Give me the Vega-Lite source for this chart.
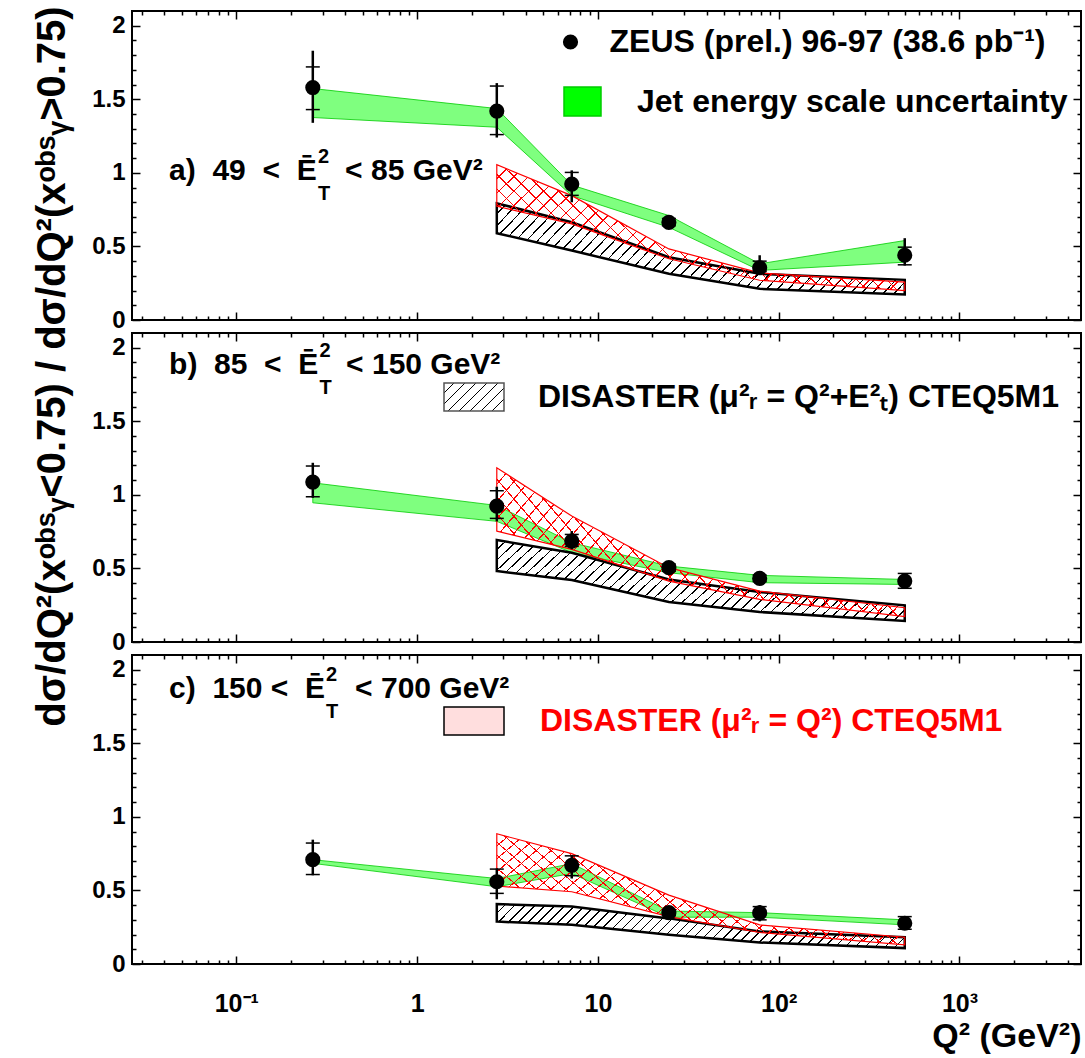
{
  "$schema": "https://vega.github.io/schema/vega-lite/v6.json",
  "autosize": {"type": "pad"},
  "padding": {"left": 30, "top": 4, "right": 0, "bottom": 0},
  "background": "white",
  "params": [
    {"name": "hatchAB", "value": {"gradient": "linear", "x1": 0, "y1": 0, "x2": 1.16, "y2": 0.245, "stops": [
      {"offset": 0, "color": "transparent"}, {"offset": 0.01889, "color": "transparent"}, {"offset": 0.01889, "color": "black"}, {"offset": 0.02222, "color": "black"},
      {"offset": 0.02222, "color": "transparent"}, {"offset": 0.04111, "color": "transparent"}, {"offset": 0.04111, "color": "black"}, {"offset": 0.04444, "color": "black"},
      {"offset": 0.04444, "color": "transparent"}, {"offset": 0.06333, "color": "transparent"}, {"offset": 0.06333, "color": "black"}, {"offset": 0.06667, "color": "black"},
      {"offset": 0.06667, "color": "transparent"}, {"offset": 0.08556, "color": "transparent"}, {"offset": 0.08556, "color": "black"}, {"offset": 0.08889, "color": "black"},
      {"offset": 0.08889, "color": "transparent"}, {"offset": 0.10778, "color": "transparent"}, {"offset": 0.10778, "color": "black"}, {"offset": 0.11111, "color": "black"},
      {"offset": 0.11111, "color": "transparent"}, {"offset": 0.13, "color": "transparent"}, {"offset": 0.13, "color": "black"}, {"offset": 0.13333, "color": "black"},
      {"offset": 0.13333, "color": "transparent"}, {"offset": 0.15222, "color": "transparent"}, {"offset": 0.15222, "color": "black"}, {"offset": 0.15556, "color": "black"},
      {"offset": 0.15556, "color": "transparent"}, {"offset": 0.17444, "color": "transparent"}, {"offset": 0.17444, "color": "black"}, {"offset": 0.17778, "color": "black"},
      {"offset": 0.17778, "color": "transparent"}, {"offset": 0.19667, "color": "transparent"}, {"offset": 0.19667, "color": "black"}, {"offset": 0.2, "color": "black"},
      {"offset": 0.2, "color": "transparent"}, {"offset": 0.21889, "color": "transparent"}, {"offset": 0.21889, "color": "black"}, {"offset": 0.22222, "color": "black"},
      {"offset": 0.22222, "color": "transparent"}, {"offset": 0.24111, "color": "transparent"}, {"offset": 0.24111, "color": "black"}, {"offset": 0.24444, "color": "black"},
      {"offset": 0.24444, "color": "transparent"}, {"offset": 0.26333, "color": "transparent"}, {"offset": 0.26333, "color": "black"}, {"offset": 0.26667, "color": "black"},
      {"offset": 0.26667, "color": "transparent"}, {"offset": 0.28556, "color": "transparent"}, {"offset": 0.28556, "color": "black"}, {"offset": 0.28889, "color": "black"},
      {"offset": 0.28889, "color": "transparent"}, {"offset": 0.30778, "color": "transparent"}, {"offset": 0.30778, "color": "black"}, {"offset": 0.31111, "color": "black"},
      {"offset": 0.31111, "color": "transparent"}, {"offset": 0.33, "color": "transparent"}, {"offset": 0.33, "color": "black"}, {"offset": 0.33333, "color": "black"},
      {"offset": 0.33333, "color": "transparent"}, {"offset": 0.35222, "color": "transparent"}, {"offset": 0.35222, "color": "black"}, {"offset": 0.35556, "color": "black"},
      {"offset": 0.35556, "color": "transparent"}, {"offset": 0.37444, "color": "transparent"}, {"offset": 0.37444, "color": "black"}, {"offset": 0.37778, "color": "black"},
      {"offset": 0.37778, "color": "transparent"}, {"offset": 0.39667, "color": "transparent"}, {"offset": 0.39667, "color": "black"}, {"offset": 0.4, "color": "black"},
      {"offset": 0.4, "color": "transparent"}, {"offset": 0.41889, "color": "transparent"}, {"offset": 0.41889, "color": "black"}, {"offset": 0.42222, "color": "black"},
      {"offset": 0.42222, "color": "transparent"}, {"offset": 0.44111, "color": "transparent"}, {"offset": 0.44111, "color": "black"}, {"offset": 0.44444, "color": "black"},
      {"offset": 0.44444, "color": "transparent"}, {"offset": 0.46333, "color": "transparent"}, {"offset": 0.46333, "color": "black"}, {"offset": 0.46667, "color": "black"},
      {"offset": 0.46667, "color": "transparent"}, {"offset": 0.48556, "color": "transparent"}, {"offset": 0.48556, "color": "black"}, {"offset": 0.48889, "color": "black"},
      {"offset": 0.48889, "color": "transparent"}, {"offset": 0.50778, "color": "transparent"}, {"offset": 0.50778, "color": "black"}, {"offset": 0.51111, "color": "black"},
      {"offset": 0.51111, "color": "transparent"}, {"offset": 0.53, "color": "transparent"}, {"offset": 0.53, "color": "black"}, {"offset": 0.53333, "color": "black"},
      {"offset": 0.53333, "color": "transparent"}, {"offset": 0.55222, "color": "transparent"}, {"offset": 0.55222, "color": "black"}, {"offset": 0.55556, "color": "black"},
      {"offset": 0.55556, "color": "transparent"}, {"offset": 0.57444, "color": "transparent"}, {"offset": 0.57444, "color": "black"}, {"offset": 0.57778, "color": "black"},
      {"offset": 0.57778, "color": "transparent"}, {"offset": 0.59667, "color": "transparent"}, {"offset": 0.59667, "color": "black"}, {"offset": 0.6, "color": "black"},
      {"offset": 0.6, "color": "transparent"}, {"offset": 0.61889, "color": "transparent"}, {"offset": 0.61889, "color": "black"}, {"offset": 0.62222, "color": "black"},
      {"offset": 0.62222, "color": "transparent"}, {"offset": 0.64111, "color": "transparent"}, {"offset": 0.64111, "color": "black"}, {"offset": 0.64444, "color": "black"},
      {"offset": 0.64444, "color": "transparent"}, {"offset": 0.66333, "color": "transparent"}, {"offset": 0.66333, "color": "black"}, {"offset": 0.66667, "color": "black"},
      {"offset": 0.66667, "color": "transparent"}, {"offset": 0.68556, "color": "transparent"}, {"offset": 0.68556, "color": "black"}, {"offset": 0.68889, "color": "black"},
      {"offset": 0.68889, "color": "transparent"}, {"offset": 0.70778, "color": "transparent"}, {"offset": 0.70778, "color": "black"}, {"offset": 0.71111, "color": "black"},
      {"offset": 0.71111, "color": "transparent"}, {"offset": 0.73, "color": "transparent"}, {"offset": 0.73, "color": "black"}, {"offset": 0.73333, "color": "black"},
      {"offset": 0.73333, "color": "transparent"}, {"offset": 0.75222, "color": "transparent"}, {"offset": 0.75222, "color": "black"}, {"offset": 0.75556, "color": "black"},
      {"offset": 0.75556, "color": "transparent"}, {"offset": 0.77444, "color": "transparent"}, {"offset": 0.77444, "color": "black"}, {"offset": 0.77778, "color": "black"},
      {"offset": 0.77778, "color": "transparent"}, {"offset": 0.79667, "color": "transparent"}, {"offset": 0.79667, "color": "black"}, {"offset": 0.8, "color": "black"},
      {"offset": 0.8, "color": "transparent"}, {"offset": 0.81889, "color": "transparent"}, {"offset": 0.81889, "color": "black"}, {"offset": 0.82222, "color": "black"},
      {"offset": 0.82222, "color": "transparent"}, {"offset": 0.84111, "color": "transparent"}, {"offset": 0.84111, "color": "black"}, {"offset": 0.84444, "color": "black"},
      {"offset": 0.84444, "color": "transparent"}, {"offset": 0.86333, "color": "transparent"}, {"offset": 0.86333, "color": "black"}, {"offset": 0.86667, "color": "black"},
      {"offset": 0.86667, "color": "transparent"}, {"offset": 0.88556, "color": "transparent"}, {"offset": 0.88556, "color": "black"}, {"offset": 0.88889, "color": "black"},
      {"offset": 0.88889, "color": "transparent"}, {"offset": 0.90778, "color": "transparent"}, {"offset": 0.90778, "color": "black"}, {"offset": 0.91111, "color": "black"},
      {"offset": 0.91111, "color": "transparent"}, {"offset": 0.93, "color": "transparent"}, {"offset": 0.93, "color": "black"}, {"offset": 0.93333, "color": "black"},
      {"offset": 0.93333, "color": "transparent"}, {"offset": 0.95222, "color": "transparent"}, {"offset": 0.95222, "color": "black"}, {"offset": 0.95556, "color": "black"},
      {"offset": 0.95556, "color": "transparent"}, {"offset": 0.97444, "color": "transparent"}, {"offset": 0.97444, "color": "black"}, {"offset": 0.97778, "color": "black"},
      {"offset": 0.97778, "color": "transparent"}, {"offset": 0.99667, "color": "transparent"}, {"offset": 0.99667, "color": "black"}, {"offset": 1, "color": "black"}
    ]}},
    {"name": "hatchC", "value": {"gradient": "linear", "x1": 0, "y1": 0, "x2": 1.095, "y2": 0.118, "stops": [
      {"offset": 0, "color": "transparent"}, {"offset": 0.01889, "color": "transparent"}, {"offset": 0.01889, "color": "black"}, {"offset": 0.02222, "color": "black"},
      {"offset": 0.02222, "color": "transparent"}, {"offset": 0.04111, "color": "transparent"}, {"offset": 0.04111, "color": "black"}, {"offset": 0.04444, "color": "black"},
      {"offset": 0.04444, "color": "transparent"}, {"offset": 0.06333, "color": "transparent"}, {"offset": 0.06333, "color": "black"}, {"offset": 0.06667, "color": "black"},
      {"offset": 0.06667, "color": "transparent"}, {"offset": 0.08556, "color": "transparent"}, {"offset": 0.08556, "color": "black"}, {"offset": 0.08889, "color": "black"},
      {"offset": 0.08889, "color": "transparent"}, {"offset": 0.10778, "color": "transparent"}, {"offset": 0.10778, "color": "black"}, {"offset": 0.11111, "color": "black"},
      {"offset": 0.11111, "color": "transparent"}, {"offset": 0.13, "color": "transparent"}, {"offset": 0.13, "color": "black"}, {"offset": 0.13333, "color": "black"},
      {"offset": 0.13333, "color": "transparent"}, {"offset": 0.15222, "color": "transparent"}, {"offset": 0.15222, "color": "black"}, {"offset": 0.15556, "color": "black"},
      {"offset": 0.15556, "color": "transparent"}, {"offset": 0.17444, "color": "transparent"}, {"offset": 0.17444, "color": "black"}, {"offset": 0.17778, "color": "black"},
      {"offset": 0.17778, "color": "transparent"}, {"offset": 0.19667, "color": "transparent"}, {"offset": 0.19667, "color": "black"}, {"offset": 0.2, "color": "black"},
      {"offset": 0.2, "color": "transparent"}, {"offset": 0.21889, "color": "transparent"}, {"offset": 0.21889, "color": "black"}, {"offset": 0.22222, "color": "black"},
      {"offset": 0.22222, "color": "transparent"}, {"offset": 0.24111, "color": "transparent"}, {"offset": 0.24111, "color": "black"}, {"offset": 0.24444, "color": "black"},
      {"offset": 0.24444, "color": "transparent"}, {"offset": 0.26333, "color": "transparent"}, {"offset": 0.26333, "color": "black"}, {"offset": 0.26667, "color": "black"},
      {"offset": 0.26667, "color": "transparent"}, {"offset": 0.28556, "color": "transparent"}, {"offset": 0.28556, "color": "black"}, {"offset": 0.28889, "color": "black"},
      {"offset": 0.28889, "color": "transparent"}, {"offset": 0.30778, "color": "transparent"}, {"offset": 0.30778, "color": "black"}, {"offset": 0.31111, "color": "black"},
      {"offset": 0.31111, "color": "transparent"}, {"offset": 0.33, "color": "transparent"}, {"offset": 0.33, "color": "black"}, {"offset": 0.33333, "color": "black"},
      {"offset": 0.33333, "color": "transparent"}, {"offset": 0.35222, "color": "transparent"}, {"offset": 0.35222, "color": "black"}, {"offset": 0.35556, "color": "black"},
      {"offset": 0.35556, "color": "transparent"}, {"offset": 0.37444, "color": "transparent"}, {"offset": 0.37444, "color": "black"}, {"offset": 0.37778, "color": "black"},
      {"offset": 0.37778, "color": "transparent"}, {"offset": 0.39667, "color": "transparent"}, {"offset": 0.39667, "color": "black"}, {"offset": 0.4, "color": "black"},
      {"offset": 0.4, "color": "transparent"}, {"offset": 0.41889, "color": "transparent"}, {"offset": 0.41889, "color": "black"}, {"offset": 0.42222, "color": "black"},
      {"offset": 0.42222, "color": "transparent"}, {"offset": 0.44111, "color": "transparent"}, {"offset": 0.44111, "color": "black"}, {"offset": 0.44444, "color": "black"},
      {"offset": 0.44444, "color": "transparent"}, {"offset": 0.46333, "color": "transparent"}, {"offset": 0.46333, "color": "black"}, {"offset": 0.46667, "color": "black"},
      {"offset": 0.46667, "color": "transparent"}, {"offset": 0.48556, "color": "transparent"}, {"offset": 0.48556, "color": "black"}, {"offset": 0.48889, "color": "black"},
      {"offset": 0.48889, "color": "transparent"}, {"offset": 0.50778, "color": "transparent"}, {"offset": 0.50778, "color": "black"}, {"offset": 0.51111, "color": "black"},
      {"offset": 0.51111, "color": "transparent"}, {"offset": 0.53, "color": "transparent"}, {"offset": 0.53, "color": "black"}, {"offset": 0.53333, "color": "black"},
      {"offset": 0.53333, "color": "transparent"}, {"offset": 0.55222, "color": "transparent"}, {"offset": 0.55222, "color": "black"}, {"offset": 0.55556, "color": "black"},
      {"offset": 0.55556, "color": "transparent"}, {"offset": 0.57444, "color": "transparent"}, {"offset": 0.57444, "color": "black"}, {"offset": 0.57778, "color": "black"},
      {"offset": 0.57778, "color": "transparent"}, {"offset": 0.59667, "color": "transparent"}, {"offset": 0.59667, "color": "black"}, {"offset": 0.6, "color": "black"},
      {"offset": 0.6, "color": "transparent"}, {"offset": 0.61889, "color": "transparent"}, {"offset": 0.61889, "color": "black"}, {"offset": 0.62222, "color": "black"},
      {"offset": 0.62222, "color": "transparent"}, {"offset": 0.64111, "color": "transparent"}, {"offset": 0.64111, "color": "black"}, {"offset": 0.64444, "color": "black"},
      {"offset": 0.64444, "color": "transparent"}, {"offset": 0.66333, "color": "transparent"}, {"offset": 0.66333, "color": "black"}, {"offset": 0.66667, "color": "black"},
      {"offset": 0.66667, "color": "transparent"}, {"offset": 0.68556, "color": "transparent"}, {"offset": 0.68556, "color": "black"}, {"offset": 0.68889, "color": "black"},
      {"offset": 0.68889, "color": "transparent"}, {"offset": 0.70778, "color": "transparent"}, {"offset": 0.70778, "color": "black"}, {"offset": 0.71111, "color": "black"},
      {"offset": 0.71111, "color": "transparent"}, {"offset": 0.73, "color": "transparent"}, {"offset": 0.73, "color": "black"}, {"offset": 0.73333, "color": "black"},
      {"offset": 0.73333, "color": "transparent"}, {"offset": 0.75222, "color": "transparent"}, {"offset": 0.75222, "color": "black"}, {"offset": 0.75556, "color": "black"},
      {"offset": 0.75556, "color": "transparent"}, {"offset": 0.77444, "color": "transparent"}, {"offset": 0.77444, "color": "black"}, {"offset": 0.77778, "color": "black"},
      {"offset": 0.77778, "color": "transparent"}, {"offset": 0.79667, "color": "transparent"}, {"offset": 0.79667, "color": "black"}, {"offset": 0.8, "color": "black"},
      {"offset": 0.8, "color": "transparent"}, {"offset": 0.81889, "color": "transparent"}, {"offset": 0.81889, "color": "black"}, {"offset": 0.82222, "color": "black"},
      {"offset": 0.82222, "color": "transparent"}, {"offset": 0.84111, "color": "transparent"}, {"offset": 0.84111, "color": "black"}, {"offset": 0.84444, "color": "black"},
      {"offset": 0.84444, "color": "transparent"}, {"offset": 0.86333, "color": "transparent"}, {"offset": 0.86333, "color": "black"}, {"offset": 0.86667, "color": "black"},
      {"offset": 0.86667, "color": "transparent"}, {"offset": 0.88556, "color": "transparent"}, {"offset": 0.88556, "color": "black"}, {"offset": 0.88889, "color": "black"},
      {"offset": 0.88889, "color": "transparent"}, {"offset": 0.90778, "color": "transparent"}, {"offset": 0.90778, "color": "black"}, {"offset": 0.91111, "color": "black"},
      {"offset": 0.91111, "color": "transparent"}, {"offset": 0.93, "color": "transparent"}, {"offset": 0.93, "color": "black"}, {"offset": 0.93333, "color": "black"},
      {"offset": 0.93333, "color": "transparent"}, {"offset": 0.95222, "color": "transparent"}, {"offset": 0.95222, "color": "black"}, {"offset": 0.95556, "color": "black"},
      {"offset": 0.95556, "color": "transparent"}, {"offset": 0.97444, "color": "transparent"}, {"offset": 0.97444, "color": "black"}, {"offset": 0.97778, "color": "black"},
      {"offset": 0.97778, "color": "transparent"}, {"offset": 0.99667, "color": "transparent"}, {"offset": 0.99667, "color": "black"}, {"offset": 1, "color": "black"}
    ]}},
    {"name": "redF", "value": {"gradient": "linear", "x1": 0, "y1": 0, "x2": 1.195, "y2": 0.375, "stops": [
      {"offset": 0, "color": "transparent"}, {"offset": 0.025, "color": "transparent"}, {"offset": 0.025, "color": "red"}, {"offset": 0.02778, "color": "red"},
      {"offset": 0.02778, "color": "transparent"}, {"offset": 0.05278, "color": "transparent"}, {"offset": 0.05278, "color": "red"}, {"offset": 0.05556, "color": "red"},
      {"offset": 0.05556, "color": "transparent"}, {"offset": 0.08056, "color": "transparent"}, {"offset": 0.08056, "color": "red"}, {"offset": 0.08333, "color": "red"},
      {"offset": 0.08333, "color": "transparent"}, {"offset": 0.10833, "color": "transparent"}, {"offset": 0.10833, "color": "red"}, {"offset": 0.11111, "color": "red"},
      {"offset": 0.11111, "color": "transparent"}, {"offset": 0.13611, "color": "transparent"}, {"offset": 0.13611, "color": "red"}, {"offset": 0.13889, "color": "red"},
      {"offset": 0.13889, "color": "transparent"}, {"offset": 0.16389, "color": "transparent"}, {"offset": 0.16389, "color": "red"}, {"offset": 0.16667, "color": "red"},
      {"offset": 0.16667, "color": "transparent"}, {"offset": 0.19167, "color": "transparent"}, {"offset": 0.19167, "color": "red"}, {"offset": 0.19444, "color": "red"},
      {"offset": 0.19444, "color": "transparent"}, {"offset": 0.21944, "color": "transparent"}, {"offset": 0.21944, "color": "red"}, {"offset": 0.22222, "color": "red"},
      {"offset": 0.22222, "color": "transparent"}, {"offset": 0.24722, "color": "transparent"}, {"offset": 0.24722, "color": "red"}, {"offset": 0.25, "color": "red"},
      {"offset": 0.25, "color": "transparent"}, {"offset": 0.275, "color": "transparent"}, {"offset": 0.275, "color": "red"}, {"offset": 0.27778, "color": "red"},
      {"offset": 0.27778, "color": "transparent"}, {"offset": 0.30278, "color": "transparent"}, {"offset": 0.30278, "color": "red"}, {"offset": 0.30556, "color": "red"},
      {"offset": 0.30556, "color": "transparent"}, {"offset": 0.33056, "color": "transparent"}, {"offset": 0.33056, "color": "red"}, {"offset": 0.33333, "color": "red"},
      {"offset": 0.33333, "color": "transparent"}, {"offset": 0.35833, "color": "transparent"}, {"offset": 0.35833, "color": "red"}, {"offset": 0.36111, "color": "red"},
      {"offset": 0.36111, "color": "transparent"}, {"offset": 0.38611, "color": "transparent"}, {"offset": 0.38611, "color": "red"}, {"offset": 0.38889, "color": "red"},
      {"offset": 0.38889, "color": "transparent"}, {"offset": 0.41389, "color": "transparent"}, {"offset": 0.41389, "color": "red"}, {"offset": 0.41667, "color": "red"},
      {"offset": 0.41667, "color": "transparent"}, {"offset": 0.44167, "color": "transparent"}, {"offset": 0.44167, "color": "red"}, {"offset": 0.44444, "color": "red"},
      {"offset": 0.44444, "color": "transparent"}, {"offset": 0.46944, "color": "transparent"}, {"offset": 0.46944, "color": "red"}, {"offset": 0.47222, "color": "red"},
      {"offset": 0.47222, "color": "transparent"}, {"offset": 0.49722, "color": "transparent"}, {"offset": 0.49722, "color": "red"}, {"offset": 0.5, "color": "red"},
      {"offset": 0.5, "color": "transparent"}, {"offset": 0.525, "color": "transparent"}, {"offset": 0.525, "color": "red"}, {"offset": 0.52778, "color": "red"},
      {"offset": 0.52778, "color": "transparent"}, {"offset": 0.55278, "color": "transparent"}, {"offset": 0.55278, "color": "red"}, {"offset": 0.55556, "color": "red"},
      {"offset": 0.55556, "color": "transparent"}, {"offset": 0.58056, "color": "transparent"}, {"offset": 0.58056, "color": "red"}, {"offset": 0.58333, "color": "red"},
      {"offset": 0.58333, "color": "transparent"}, {"offset": 0.60833, "color": "transparent"}, {"offset": 0.60833, "color": "red"}, {"offset": 0.61111, "color": "red"},
      {"offset": 0.61111, "color": "transparent"}, {"offset": 0.63611, "color": "transparent"}, {"offset": 0.63611, "color": "red"}, {"offset": 0.63889, "color": "red"},
      {"offset": 0.63889, "color": "transparent"}, {"offset": 0.66389, "color": "transparent"}, {"offset": 0.66389, "color": "red"}, {"offset": 0.66667, "color": "red"},
      {"offset": 0.66667, "color": "transparent"}, {"offset": 0.69167, "color": "transparent"}, {"offset": 0.69167, "color": "red"}, {"offset": 0.69444, "color": "red"},
      {"offset": 0.69444, "color": "transparent"}, {"offset": 0.71944, "color": "transparent"}, {"offset": 0.71944, "color": "red"}, {"offset": 0.72222, "color": "red"},
      {"offset": 0.72222, "color": "transparent"}, {"offset": 0.74722, "color": "transparent"}, {"offset": 0.74722, "color": "red"}, {"offset": 0.75, "color": "red"},
      {"offset": 0.75, "color": "transparent"}, {"offset": 0.775, "color": "transparent"}, {"offset": 0.775, "color": "red"}, {"offset": 0.77778, "color": "red"},
      {"offset": 0.77778, "color": "transparent"}, {"offset": 0.80278, "color": "transparent"}, {"offset": 0.80278, "color": "red"}, {"offset": 0.80556, "color": "red"},
      {"offset": 0.80556, "color": "transparent"}, {"offset": 0.83056, "color": "transparent"}, {"offset": 0.83056, "color": "red"}, {"offset": 0.83333, "color": "red"},
      {"offset": 0.83333, "color": "transparent"}, {"offset": 0.85833, "color": "transparent"}, {"offset": 0.85833, "color": "red"}, {"offset": 0.86111, "color": "red"},
      {"offset": 0.86111, "color": "transparent"}, {"offset": 0.88611, "color": "transparent"}, {"offset": 0.88611, "color": "red"}, {"offset": 0.88889, "color": "red"},
      {"offset": 0.88889, "color": "transparent"}, {"offset": 0.91389, "color": "transparent"}, {"offset": 0.91389, "color": "red"}, {"offset": 0.91667, "color": "red"},
      {"offset": 0.91667, "color": "transparent"}, {"offset": 0.94167, "color": "transparent"}, {"offset": 0.94167, "color": "red"}, {"offset": 0.94444, "color": "red"},
      {"offset": 0.94444, "color": "transparent"}, {"offset": 0.96944, "color": "transparent"}, {"offset": 0.96944, "color": "red"}, {"offset": 0.97222, "color": "red"},
      {"offset": 0.97222, "color": "transparent"}, {"offset": 0.99722, "color": "transparent"}, {"offset": 0.99722, "color": "red"}, {"offset": 1, "color": "red"}
    ]}},
    {"name": "redB", "value": {"gradient": "linear", "x1": 0, "y1": 1, "x2": 1.195, "y2": 0.625, "stops": [
      {"offset": 0, "color": "transparent"}, {"offset": 0.025, "color": "transparent"}, {"offset": 0.025, "color": "red"}, {"offset": 0.02778, "color": "red"},
      {"offset": 0.02778, "color": "transparent"}, {"offset": 0.05278, "color": "transparent"}, {"offset": 0.05278, "color": "red"}, {"offset": 0.05556, "color": "red"},
      {"offset": 0.05556, "color": "transparent"}, {"offset": 0.08056, "color": "transparent"}, {"offset": 0.08056, "color": "red"}, {"offset": 0.08333, "color": "red"},
      {"offset": 0.08333, "color": "transparent"}, {"offset": 0.10833, "color": "transparent"}, {"offset": 0.10833, "color": "red"}, {"offset": 0.11111, "color": "red"},
      {"offset": 0.11111, "color": "transparent"}, {"offset": 0.13611, "color": "transparent"}, {"offset": 0.13611, "color": "red"}, {"offset": 0.13889, "color": "red"},
      {"offset": 0.13889, "color": "transparent"}, {"offset": 0.16389, "color": "transparent"}, {"offset": 0.16389, "color": "red"}, {"offset": 0.16667, "color": "red"},
      {"offset": 0.16667, "color": "transparent"}, {"offset": 0.19167, "color": "transparent"}, {"offset": 0.19167, "color": "red"}, {"offset": 0.19444, "color": "red"},
      {"offset": 0.19444, "color": "transparent"}, {"offset": 0.21944, "color": "transparent"}, {"offset": 0.21944, "color": "red"}, {"offset": 0.22222, "color": "red"},
      {"offset": 0.22222, "color": "transparent"}, {"offset": 0.24722, "color": "transparent"}, {"offset": 0.24722, "color": "red"}, {"offset": 0.25, "color": "red"},
      {"offset": 0.25, "color": "transparent"}, {"offset": 0.275, "color": "transparent"}, {"offset": 0.275, "color": "red"}, {"offset": 0.27778, "color": "red"},
      {"offset": 0.27778, "color": "transparent"}, {"offset": 0.30278, "color": "transparent"}, {"offset": 0.30278, "color": "red"}, {"offset": 0.30556, "color": "red"},
      {"offset": 0.30556, "color": "transparent"}, {"offset": 0.33056, "color": "transparent"}, {"offset": 0.33056, "color": "red"}, {"offset": 0.33333, "color": "red"},
      {"offset": 0.33333, "color": "transparent"}, {"offset": 0.35833, "color": "transparent"}, {"offset": 0.35833, "color": "red"}, {"offset": 0.36111, "color": "red"},
      {"offset": 0.36111, "color": "transparent"}, {"offset": 0.38611, "color": "transparent"}, {"offset": 0.38611, "color": "red"}, {"offset": 0.38889, "color": "red"},
      {"offset": 0.38889, "color": "transparent"}, {"offset": 0.41389, "color": "transparent"}, {"offset": 0.41389, "color": "red"}, {"offset": 0.41667, "color": "red"},
      {"offset": 0.41667, "color": "transparent"}, {"offset": 0.44167, "color": "transparent"}, {"offset": 0.44167, "color": "red"}, {"offset": 0.44444, "color": "red"},
      {"offset": 0.44444, "color": "transparent"}, {"offset": 0.46944, "color": "transparent"}, {"offset": 0.46944, "color": "red"}, {"offset": 0.47222, "color": "red"},
      {"offset": 0.47222, "color": "transparent"}, {"offset": 0.49722, "color": "transparent"}, {"offset": 0.49722, "color": "red"}, {"offset": 0.5, "color": "red"},
      {"offset": 0.5, "color": "transparent"}, {"offset": 0.525, "color": "transparent"}, {"offset": 0.525, "color": "red"}, {"offset": 0.52778, "color": "red"},
      {"offset": 0.52778, "color": "transparent"}, {"offset": 0.55278, "color": "transparent"}, {"offset": 0.55278, "color": "red"}, {"offset": 0.55556, "color": "red"},
      {"offset": 0.55556, "color": "transparent"}, {"offset": 0.58056, "color": "transparent"}, {"offset": 0.58056, "color": "red"}, {"offset": 0.58333, "color": "red"},
      {"offset": 0.58333, "color": "transparent"}, {"offset": 0.60833, "color": "transparent"}, {"offset": 0.60833, "color": "red"}, {"offset": 0.61111, "color": "red"},
      {"offset": 0.61111, "color": "transparent"}, {"offset": 0.63611, "color": "transparent"}, {"offset": 0.63611, "color": "red"}, {"offset": 0.63889, "color": "red"},
      {"offset": 0.63889, "color": "transparent"}, {"offset": 0.66389, "color": "transparent"}, {"offset": 0.66389, "color": "red"}, {"offset": 0.66667, "color": "red"},
      {"offset": 0.66667, "color": "transparent"}, {"offset": 0.69167, "color": "transparent"}, {"offset": 0.69167, "color": "red"}, {"offset": 0.69444, "color": "red"},
      {"offset": 0.69444, "color": "transparent"}, {"offset": 0.71944, "color": "transparent"}, {"offset": 0.71944, "color": "red"}, {"offset": 0.72222, "color": "red"},
      {"offset": 0.72222, "color": "transparent"}, {"offset": 0.74722, "color": "transparent"}, {"offset": 0.74722, "color": "red"}, {"offset": 0.75, "color": "red"},
      {"offset": 0.75, "color": "transparent"}, {"offset": 0.775, "color": "transparent"}, {"offset": 0.775, "color": "red"}, {"offset": 0.77778, "color": "red"},
      {"offset": 0.77778, "color": "transparent"}, {"offset": 0.80278, "color": "transparent"}, {"offset": 0.80278, "color": "red"}, {"offset": 0.80556, "color": "red"},
      {"offset": 0.80556, "color": "transparent"}, {"offset": 0.83056, "color": "transparent"}, {"offset": 0.83056, "color": "red"}, {"offset": 0.83333, "color": "red"},
      {"offset": 0.83333, "color": "transparent"}, {"offset": 0.85833, "color": "transparent"}, {"offset": 0.85833, "color": "red"}, {"offset": 0.86111, "color": "red"},
      {"offset": 0.86111, "color": "transparent"}, {"offset": 0.88611, "color": "transparent"}, {"offset": 0.88611, "color": "red"}, {"offset": 0.88889, "color": "red"},
      {"offset": 0.88889, "color": "transparent"}, {"offset": 0.91389, "color": "transparent"}, {"offset": 0.91389, "color": "red"}, {"offset": 0.91667, "color": "red"},
      {"offset": 0.91667, "color": "transparent"}, {"offset": 0.94167, "color": "transparent"}, {"offset": 0.94167, "color": "red"}, {"offset": 0.94444, "color": "red"},
      {"offset": 0.94444, "color": "transparent"}, {"offset": 0.96944, "color": "transparent"}, {"offset": 0.96944, "color": "red"}, {"offset": 0.97222, "color": "red"},
      {"offset": 0.97222, "color": "transparent"}, {"offset": 0.99722, "color": "transparent"}, {"offset": 0.99722, "color": "red"}, {"offset": 1, "color": "red"}
    ]}},
    {"name": "hatchLeg", "value": {"gradient": "linear", "x1": 0, "y1": 0, "x2": 1.204, "y2": 0.562, "stops": [
      {"offset": 0, "color": "transparent"}, {"offset": 0.10625, "color": "transparent"}, {"offset": 0.10625, "color": "black"}, {"offset": 0.125, "color": "black"},
      {"offset": 0.125, "color": "transparent"}, {"offset": 0.23125, "color": "transparent"}, {"offset": 0.23125, "color": "black"}, {"offset": 0.25, "color": "black"},
      {"offset": 0.25, "color": "transparent"}, {"offset": 0.35625, "color": "transparent"}, {"offset": 0.35625, "color": "black"}, {"offset": 0.375, "color": "black"},
      {"offset": 0.375, "color": "transparent"}, {"offset": 0.48125, "color": "transparent"}, {"offset": 0.48125, "color": "black"}, {"offset": 0.5, "color": "black"},
      {"offset": 0.5, "color": "transparent"}, {"offset": 0.60625, "color": "transparent"}, {"offset": 0.60625, "color": "black"}, {"offset": 0.625, "color": "black"},
      {"offset": 0.625, "color": "transparent"}, {"offset": 0.73125, "color": "transparent"}, {"offset": 0.73125, "color": "black"}, {"offset": 0.75, "color": "black"},
      {"offset": 0.75, "color": "transparent"}, {"offset": 0.85625, "color": "transparent"}, {"offset": 0.85625, "color": "black"}, {"offset": 0.875, "color": "black"},
      {"offset": 0.875, "color": "transparent"}, {"offset": 0.98125, "color": "transparent"}, {"offset": 0.98125, "color": "black"}, {"offset": 1, "color": "black"}
    ]}}
  ],
  "config": {
    "font": "Liberation Sans",
    "view": {"stroke": "black", "strokeWidth": 2},
    "axis": {"grid": false, "domain": false, "tickColor": "black", "tickWidth": 1.5, "labelFont": "Liberation Sans", "labelFontWeight": "bold", "labelFontSize": 24, "labelColor": "black", "titleFont": "Liberation Sans", "titleFontWeight": "bold", "titleColor": "black"},
    "legend": {"labelFont": "Liberation Sans", "labelFontWeight": "bold", "labelFontSize": 32, "labelColor": "black", "labelLimit": 0, "padding": 0, "orient": "none"},
    "text": {"font": "Liberation Sans", "fontWeight": "bold", "color": "black", "align": "left", "baseline": "alphabetic"}
  },
  "data": {"values": [
    {"p": "a", "q2": 0.265, "y": 1.58, "slo": 1.43, "shi": 1.72, "tlo": 1.34, "thi": 1.83, "glo": 1.376, "ghi": 1.573},
    {"p": "a", "q2": 2.76, "y": 1.42, "slo": 1.26, "shi": 1.59, "tlo": 1.24, "thi": 1.61, "glo": 1.31, "ghi": 1.437, "rlo": 0.773, "rhi": 1.055, "blo": 0.59, "bhi": 0.793},
    {"p": "a", "q2": 7.17, "y": 0.924, "slo": 0.847, "shi": 1.003, "tlo": 0.8, "thi": 1.017, "glo": 0.845, "ghi": 0.917, "rlo": 0.653, "rhi": 0.845, "blo": 0.472, "bhi": 0.664},
    {"p": "a", "q2": 24.7, "y": 0.664, "slo": 0.64, "shi": 0.69, "tlo": 0.63, "thi": 0.7, "glo": 0.63, "ghi": 0.71, "rlo": 0.416, "rhi": 0.483, "blo": 0.314, "bhi": 0.427},
    {"p": "a", "q2": 78.5, "y": 0.355, "slo": 0.33, "shi": 0.4, "tlo": 0.32, "thi": 0.44, "glo": 0.337, "ghi": 0.382, "rlo": 0.27, "rhi": 0.32, "blo": 0.212, "bhi": 0.314},
    {"p": "a", "q2": 498, "y": 0.44, "slo": 0.375, "shi": 0.495, "tlo": 0.37, "thi": 0.556, "glo": 0.393, "ghi": 0.54, "rlo": 0.2, "rhi": 0.258, "blo": 0.174, "bhi": 0.273},
    {"p": "b", "q2": 0.265, "y": 1.087, "slo": 0.987, "shi": 1.196, "tlo": 0.98, "thi": 1.218, "glo": 0.946, "ghi": 1.082},
    {"p": "b", "q2": 2.76, "y": 0.924, "slo": 0.84, "shi": 1.028, "tlo": 0.82, "thi": 1.055, "glo": 0.82, "ghi": 0.928, "rlo": 0.754, "rhi": 1.184, "blo": 0.482, "bhi": 0.693},
    {"p": "b", "q2": 7.17, "y": 0.686, "slo": 0.65, "shi": 0.731, "tlo": 0.63, "thi": 0.754, "glo": 0.607, "ghi": 0.675, "rlo": 0.629, "rhi": 0.856, "blo": 0.421, "bhi": 0.607},
    {"p": "b", "q2": 24.7, "y": 0.505, "slo": 0.48, "shi": 0.53, "tlo": 0.475, "thi": 0.535, "glo": 0.471, "ghi": 0.516, "rlo": 0.414, "rhi": 0.505, "blo": 0.272, "bhi": 0.425},
    {"p": "b", "q2": 78.5, "y": 0.432, "slo": 0.41, "shi": 0.455, "tlo": 0.4, "thi": 0.465, "glo": 0.403, "ghi": 0.453, "rlo": 0.29, "rhi": 0.346, "blo": 0.204, "bhi": 0.34},
    {"p": "b", "q2": 498, "y": 0.414, "slo": 0.365, "shi": 0.466, "tlo": 0.365, "thi": 0.466, "glo": 0.391, "ghi": 0.425, "rlo": 0.172, "rhi": 0.233, "blo": 0.143, "bhi": 0.249},
    {"p": "c", "q2": 0.265, "y": 0.709, "slo": 0.608, "shi": 0.822, "tlo": 0.603, "thi": 0.845, "glo": 0.684, "ghi": 0.709},
    {"p": "c", "q2": 2.76, "y": 0.559, "slo": 0.48, "shi": 0.645, "tlo": 0.44, "thi": 0.649, "glo": 0.525, "ghi": 0.581, "rlo": 0.53, "rhi": 0.885, "blo": 0.288, "bhi": 0.407},
    {"p": "c", "q2": 7.17, "y": 0.671, "slo": 0.6, "shi": 0.735, "tlo": 0.581, "thi": 0.739, "glo": 0.615, "ghi": 0.682, "rlo": 0.491, "rhi": 0.75, "blo": 0.266, "bhi": 0.39},
    {"p": "c", "q2": 24.7, "y": 0.349, "slo": 0.33, "shi": 0.37, "tlo": 0.325, "thi": 0.375, "glo": 0.318, "ghi": 0.36, "rlo": 0.322, "rhi": 0.468, "blo": 0.198, "bhi": 0.31},
    {"p": "c", "q2": 78.5, "y": 0.347, "slo": 0.3, "shi": 0.39, "tlo": 0.29, "thi": 0.4, "glo": 0.318, "ghi": 0.349, "rlo": 0.214, "rhi": 0.266, "blo": 0.146, "bhi": 0.221},
    {"p": "c", "q2": 498, "y": 0.277, "slo": 0.236, "shi": 0.322, "tlo": 0.236, "thi": 0.322, "glo": 0.266, "ghi": 0.3, "rlo": 0.131, "rhi": 0.182, "blo": 0.108, "bhi": 0.182}
  ]},
  "spacing": 13,
  "bounds": "flush",
  "resolve": {"scale": {"fill": "independent", "shape": "independent", "stroke": "independent"}, "legend": {"fill": "independent", "shape": "independent", "stroke": "independent"}},
  "vconcat": [
    {
      "width": 949, "height": 309,
      "transform": [{"filter": "datum.p == 'a'"}],
      "layer": [
        {"mark": {"type": "area", "fillOpacity": 0.5, "stroke": "#00cc00", "strokeWidth": 0.8},
         "encoding": {
           "x": {"field": "q2", "type": "quantitative", "scale": {"type": "log", "domain": [0.0265, 4700], "nice": false}, "axis": {"orient": "bottom", "values": [0.1, 1, 10, 100, 1000], "tickSize": -8, "labels": false, "title": null}},
           "y": {"field": "glo", "type": "quantitative", "scale": {"domain": [0, 2.1], "nice": false, "zero": false}, "axis": {"orient": "left", "values": [0, 0.5, 1, 1.5, 2], "tickSize": -8, "labelPadding": 15, "format": "~g", "title": null}},
           "y2": {"field": "ghi"},
           "fill": {"datum": "Jet energy scale uncertainty", "scale": {"range": ["#00ff00"]}, "legend": {"title": null, "legendX": 431, "legendY": 71, "symbolType": "M-1,-0.784H1V0.784H-1Z", "symbolSize": 1369, "labelOffset": 35, "encode": {"symbols": {"update": {"fill": {"value": "#00ff00"}, "fillOpacity": {"value": 1}, "opacity": {"value": 1}, "stroke": {"value": "black"}, "strokeWidth": {"value": 1.5}}}}}}
         }},
        {"mark": {"type": "area", "fill": {"expr": "hatchAB"}, "stroke": "black", "strokeWidth": 2.5},
         "encoding": {
           "x": {"field": "q2", "type": "quantitative", "scale": {"type": "log", "domain": [0.0265, 4700], "nice": false}, "axis": {"orient": "bottom", "values": [0.03, 0.04, 0.05, 0.06, 0.07, 0.08, 0.09, 0.2, 0.3, 0.4, 0.5, 0.6, 0.7, 0.8, 0.9, 2, 3, 4, 5, 6, 7, 8, 9, 20, 30, 40, 50, 60, 70, 80, 90, 200, 300, 400, 500, 600, 700, 800, 900, 2000, 3000, 4000], "tickSize": -4, "labels": false, "title": null}},
           "y": {"field": "blo", "type": "quantitative", "scale": {"domain": [0, 2.1], "nice": false, "zero": false}, "axis": {"orient": "left", "values": [0.1, 0.2, 0.3, 0.4, 0.6, 0.7, 0.8, 0.9, 1.1, 1.2, 1.3, 1.4, 1.6, 1.7, 1.8, 1.9], "tickSize": -4, "labels": false, "title": null}},
           "y2": {"field": "bhi"}
         }},
        {"mark": {"type": "area", "fill": {"expr": "redF"}, "stroke": "red", "strokeWidth": 1.2},
         "encoding": {
           "x": {"field": "q2", "type": "quantitative", "scale": {"type": "log", "domain": [0.0265, 4700], "nice": false}, "axis": {"orient": "top", "values": [0.1, 1, 10, 100, 1000], "tickSize": -8, "labels": false, "title": null}},
           "y": {"field": "rlo", "type": "quantitative", "scale": {"domain": [0, 2.1], "nice": false, "zero": false}, "axis": {"orient": "right", "values": [0, 0.5, 1, 1.5, 2], "tickSize": -8, "labels": false, "title": null}},
           "y2": {"field": "rhi"}
         }},
        {"mark": {"type": "area", "fill": {"expr": "redB"}},
         "encoding": {
           "x": {"field": "q2", "type": "quantitative", "scale": {"type": "log", "domain": [0.0265, 4700], "nice": false}, "axis": null},
           "y": {"field": "rlo", "type": "quantitative", "scale": {"domain": [0, 2.1], "nice": false, "zero": false}, "axis": null},
           "y2": {"field": "rhi"}
         }},
        {"mark": {"type": "rule", "color": "black", "strokeWidth": 2.5},
         "encoding": {
           "x": {"field": "q2", "type": "quantitative", "scale": {"type": "log", "domain": [0.0265, 4700], "nice": false}, "axis": {"orient": "top", "values": [0.03, 0.04, 0.05, 0.06, 0.07, 0.08, 0.09, 0.2, 0.3, 0.4, 0.5, 0.6, 0.7, 0.8, 0.9, 2, 3, 4, 5, 6, 7, 8, 9, 20, 30, 40, 50, 60, 70, 80, 90, 200, 300, 400, 500, 600, 700, 800, 900, 2000, 3000, 4000], "tickSize": -4, "labels": false, "title": null}},
           "y": {"field": "tlo", "type": "quantitative", "scale": {"domain": [0, 2.1], "nice": false, "zero": false}, "axis": {"orient": "right", "values": [0.1, 0.2, 0.3, 0.4, 0.6, 0.7, 0.8, 0.9, 1.1, 1.2, 1.3, 1.4, 1.6, 1.7, 1.8, 1.9], "tickSize": -4, "labels": false, "title": null}},
           "y2": {"field": "thi"}
         }},
        {"transform": [{"fold": ["slo", "shi"], "as": ["k", "v"]}],
         "mark": {"type": "tick", "orient": "horizontal", "size": 14, "thickness": 1.5, "color": "black", "opacity": 1},
         "encoding": {
           "x": {"field": "q2", "type": "quantitative", "scale": {"type": "log", "domain": [0.0265, 4700], "nice": false}, "axis": null},
           "y": {"field": "v", "type": "quantitative", "scale": {"domain": [0, 2.1], "nice": false, "zero": false}, "axis": null}
         }},
        {"mark": {"type": "point", "filled": true, "size": 230, "color": "black", "opacity": 1},
         "encoding": {
           "x": {"field": "q2", "type": "quantitative", "scale": {"type": "log", "domain": [0.0265, 4700], "nice": false}, "axis": null},
           "y": {"field": "y", "type": "quantitative", "scale": {"domain": [0, 2.1], "nice": false, "zero": false}, "axis": null},
           "shape": {"datum": "ZEUS (prel.) 96-97 (38.6 pb⁻¹)", "scale": {"range": ["circle"]}, "legend": {"title": null, "legendX": 422.5, "legendY": 15, "symbolSize": 230, "labelOffset": 23, "encode": {"symbols": {"update": {"fill": {"value": "black"}, "fillOpacity": {"value": 1}, "opacity": {"value": 1}, "stroke": {"value": "black"}}}}}}
         }},
        {"transform": [{"filter": "datum.q2 < 1"}],
         "mark": {"type": "text", "fontSize": 30},
         "encoding": {
           "x": {"datum": 0.0425, "type": "quantitative", "scale": {"type": "log", "domain": [0.0265, 4700], "nice": false}, "axis": null},
           "y": {"datum": 0.953, "type": "quantitative", "scale": {"domain": [0, 2.1], "nice": false, "zero": false}, "axis": null},
           "text": {"value": "a)\u00a0\u00a049\u00a0\u00a0<\u00a0\u00a0Ē"}
         }},
        {"transform": [{"filter": "datum.q2 < 1"}],
         "mark": {"type": "text", "fontSize": 20, "dx": 149, "dy": -17},
         "encoding": {
           "x": {"datum": 0.0425, "type": "quantitative", "scale": {"type": "log", "domain": [0.0265, 4700], "nice": false}, "axis": null},
           "y": {"datum": 0.953, "type": "quantitative", "scale": {"domain": [0, 2.1], "nice": false, "zero": false}, "axis": null},
           "text": {"value": "2"}
         }},
        {"transform": [{"filter": "datum.q2 < 1"}],
         "mark": {"type": "text", "fontSize": 20, "dx": 149, "dy": 20},
         "encoding": {
           "x": {"datum": 0.0425, "type": "quantitative", "scale": {"type": "log", "domain": [0.0265, 4700], "nice": false}, "axis": null},
           "y": {"datum": 0.953, "type": "quantitative", "scale": {"domain": [0, 2.1], "nice": false, "zero": false}, "axis": null},
           "text": {"value": "T"}
         }},
        {"transform": [{"filter": "datum.q2 < 1"}],
         "mark": {"type": "text", "fontSize": 30, "dx": 176},
         "encoding": {
           "x": {"datum": 0.0425, "type": "quantitative", "scale": {"type": "log", "domain": [0.0265, 4700], "nice": false}, "axis": null},
           "y": {"datum": 0.953, "type": "quantitative", "scale": {"domain": [0, 2.1], "nice": false, "zero": false}, "axis": null},
           "text": {"value": "<\u00a085\u00a0GeV²"}
         }}
      ],
      "resolve": {"axis": {"x": "independent", "y": "independent"}}
    },
    {
      "width": 949, "height": 309,
      "transform": [{"filter": "datum.p == 'b'"}],
      "layer": [
        {"mark": {"type": "area", "fill": "#00ff00", "fillOpacity": 0.5, "stroke": "#00cc00", "strokeWidth": 0.8},
         "encoding": {
           "x": {"field": "q2", "type": "quantitative", "scale": {"type": "log", "domain": [0.0265, 4700], "nice": false}, "axis": {"orient": "bottom", "values": [0.1, 1, 10, 100, 1000], "tickSize": -8, "labels": false, "title": null}},
           "y": {"field": "glo", "type": "quantitative", "scale": {"domain": [0, 2.1], "nice": false, "zero": false}, "axis": {"orient": "left", "values": [0, 0.5, 1, 1.5, 2], "tickSize": -8, "labelPadding": 15, "format": "~g", "title": "dσ/dQ²(xᵒᵇˢᵧ<0.75) / dσ/dQ²(xᵒᵇˢᵧ>0.75)", "titleFontSize": 40, "titleX": -68, "titleY": 33, "titleAngle": 270, "titleAlign": "center", "titleBaseline": "alphabetic"}},
           "y2": {"field": "ghi"}
         }},
        {"mark": {"type": "area", "fill": {"expr": "hatchAB"}, "stroke": "black", "strokeWidth": 2.5},
         "encoding": {
           "x": {"field": "q2", "type": "quantitative", "scale": {"type": "log", "domain": [0.0265, 4700], "nice": false}, "axis": {"orient": "bottom", "values": [0.03, 0.04, 0.05, 0.06, 0.07, 0.08, 0.09, 0.2, 0.3, 0.4, 0.5, 0.6, 0.7, 0.8, 0.9, 2, 3, 4, 5, 6, 7, 8, 9, 20, 30, 40, 50, 60, 70, 80, 90, 200, 300, 400, 500, 600, 700, 800, 900, 2000, 3000, 4000], "tickSize": -4, "labels": false, "title": null}},
           "y": {"field": "blo", "type": "quantitative", "scale": {"domain": [0, 2.1], "nice": false, "zero": false}, "axis": {"orient": "left", "values": [0.1, 0.2, 0.3, 0.4, 0.6, 0.7, 0.8, 0.9, 1.1, 1.2, 1.3, 1.4, 1.6, 1.7, 1.8, 1.9], "tickSize": -4, "labels": false, "title": null}},
           "y2": {"field": "bhi"}
         }},
        {"transform": [{"filter": "false"}],
         "mark": {"type": "area", "fill": {"expr": "hatchLeg"}, "strokeWidth": 1.5},
         "encoding": {
           "x": {"field": "q2", "type": "quantitative", "scale": {"type": "log", "domain": [0.0265, 4700], "nice": false}, "axis": null},
           "y": {"field": "blo", "type": "quantitative", "scale": {"domain": [0, 2.1], "nice": false, "zero": false}, "axis": null},
           "y2": {"field": "bhi"},
           "stroke": {"datum": "DISASTER (μ²ᵣ = Q²+E²ₜ) CTEQ5M1", "scale": {"range": ["#555555"]}, "legend": {"title": null, "legendX": 311, "legendY": 33, "symbolType": "M-1,-0.467H1V0.467H-1Z", "symbolSize": 3600, "symbolStrokeWidth": 1.5, "symbolOpacity": 1, "labelOffset": 33}}
         }},
        {"mark": {"type": "area", "fill": {"expr": "redF"}, "stroke": "red", "strokeWidth": 1.2},
         "encoding": {
           "x": {"field": "q2", "type": "quantitative", "scale": {"type": "log", "domain": [0.0265, 4700], "nice": false}, "axis": {"orient": "top", "values": [0.1, 1, 10, 100, 1000], "tickSize": -8, "labels": false, "title": null}},
           "y": {"field": "rlo", "type": "quantitative", "scale": {"domain": [0, 2.1], "nice": false, "zero": false}, "axis": {"orient": "right", "values": [0, 0.5, 1, 1.5, 2], "tickSize": -8, "labels": false, "title": null}},
           "y2": {"field": "rhi"}
         }},
        {"mark": {"type": "area", "fill": {"expr": "redB"}},
         "encoding": {
           "x": {"field": "q2", "type": "quantitative", "scale": {"type": "log", "domain": [0.0265, 4700], "nice": false}, "axis": null},
           "y": {"field": "rlo", "type": "quantitative", "scale": {"domain": [0, 2.1], "nice": false, "zero": false}, "axis": null},
           "y2": {"field": "rhi"}
         }},
        {"mark": {"type": "rule", "color": "black", "strokeWidth": 2.5},
         "encoding": {
           "x": {"field": "q2", "type": "quantitative", "scale": {"type": "log", "domain": [0.0265, 4700], "nice": false}, "axis": {"orient": "top", "values": [0.03, 0.04, 0.05, 0.06, 0.07, 0.08, 0.09, 0.2, 0.3, 0.4, 0.5, 0.6, 0.7, 0.8, 0.9, 2, 3, 4, 5, 6, 7, 8, 9, 20, 30, 40, 50, 60, 70, 80, 90, 200, 300, 400, 500, 600, 700, 800, 900, 2000, 3000, 4000], "tickSize": -4, "labels": false, "title": null}},
           "y": {"field": "tlo", "type": "quantitative", "scale": {"domain": [0, 2.1], "nice": false, "zero": false}, "axis": {"orient": "right", "values": [0.1, 0.2, 0.3, 0.4, 0.6, 0.7, 0.8, 0.9, 1.1, 1.2, 1.3, 1.4, 1.6, 1.7, 1.8, 1.9], "tickSize": -4, "labels": false, "title": null}},
           "y2": {"field": "thi"}
         }},
        {"transform": [{"fold": ["slo", "shi"], "as": ["k", "v"]}],
         "mark": {"type": "tick", "orient": "horizontal", "size": 14, "thickness": 1.5, "color": "black", "opacity": 1},
         "encoding": {
           "x": {"field": "q2", "type": "quantitative", "scale": {"type": "log", "domain": [0.0265, 4700], "nice": false}, "axis": null},
           "y": {"field": "v", "type": "quantitative", "scale": {"domain": [0, 2.1], "nice": false, "zero": false}, "axis": null}
         }},
        {"mark": {"type": "point", "filled": true, "shape": "circle", "size": 230, "color": "black", "opacity": 1},
         "encoding": {
           "x": {"field": "q2", "type": "quantitative", "scale": {"type": "log", "domain": [0.0265, 4700], "nice": false}, "axis": null},
           "y": {"field": "y", "type": "quantitative", "scale": {"domain": [0, 2.1], "nice": false, "zero": false}, "axis": null}
         }},
        {"transform": [{"filter": "datum.q2 < 1"}],
         "mark": {"type": "text", "fontSize": 30},
         "encoding": {
           "x": {"datum": 0.0425, "type": "quantitative", "scale": {"type": "log", "domain": [0.0265, 4700], "nice": false}, "axis": null},
           "y": {"datum": 1.818, "type": "quantitative", "scale": {"domain": [0, 2.1], "nice": false, "zero": false}, "axis": null},
           "text": {"value": "b)\u00a0\u00a085\u00a0\u00a0<\u00a0\u00a0Ē"}
         }},
        {"transform": [{"filter": "datum.q2 < 1"}],
         "mark": {"type": "text", "fontSize": 20, "dx": 150.5, "dy": -17},
         "encoding": {
           "x": {"datum": 0.0425, "type": "quantitative", "scale": {"type": "log", "domain": [0.0265, 4700], "nice": false}, "axis": null},
           "y": {"datum": 1.818, "type": "quantitative", "scale": {"domain": [0, 2.1], "nice": false, "zero": false}, "axis": null},
           "text": {"value": "2"}
         }},
        {"transform": [{"filter": "datum.q2 < 1"}],
         "mark": {"type": "text", "fontSize": 20, "dx": 150.5, "dy": 20},
         "encoding": {
           "x": {"datum": 0.0425, "type": "quantitative", "scale": {"type": "log", "domain": [0.0265, 4700], "nice": false}, "axis": null},
           "y": {"datum": 1.818, "type": "quantitative", "scale": {"domain": [0, 2.1], "nice": false, "zero": false}, "axis": null},
           "text": {"value": "T"}
         }},
        {"transform": [{"filter": "datum.q2 < 1"}],
         "mark": {"type": "text", "fontSize": 30, "dx": 177},
         "encoding": {
           "x": {"datum": 0.0425, "type": "quantitative", "scale": {"type": "log", "domain": [0.0265, 4700], "nice": false}, "axis": null},
           "y": {"datum": 1.818, "type": "quantitative", "scale": {"domain": [0, 2.1], "nice": false, "zero": false}, "axis": null},
           "text": {"value": "<\u00a0150\u00a0GeV²"}
         }}
      ],
      "resolve": {"axis": {"x": "independent", "y": "independent"}}
    },
    {
      "width": 949, "height": 309,
      "transform": [{"filter": "datum.p == 'c'"}],
      "layer": [
        {"mark": {"type": "area", "fill": "#00ff00", "fillOpacity": 0.5, "stroke": "#00cc00", "strokeWidth": 0.8},
         "encoding": {
           "x": {"field": "q2", "type": "quantitative", "scale": {"type": "log", "domain": [0.0265, 4700], "nice": false}, "axis": {"orient": "bottom", "values": [0.1, 1, 10, 100, 1000], "tickSize": -8, "labelPadding": 35, "labelFontSize": 25, "labelExpr": "datum.value < 0.5 ? '10⁻¹' : datum.value < 5 ? '1' : datum.value < 50 ? '10' : datum.value < 500 ? '10²' : '10³'", "title": "Q² (GeV²)", "titleFontSize": 34, "titleX": 949, "titleY": 82, "titleAlign": "right", "titleBaseline": "alphabetic"}},
           "y": {"field": "glo", "type": "quantitative", "scale": {"domain": [0, 2.1], "nice": false, "zero": false}, "axis": {"orient": "left", "values": [0, 0.5, 1, 1.5, 2], "tickSize": -8, "labelPadding": 15, "format": "~g", "title": null}},
           "y2": {"field": "ghi"}
         }},
        {"mark": {"type": "area", "fill": {"expr": "hatchC"}, "stroke": "black", "strokeWidth": 2.5},
         "encoding": {
           "x": {"field": "q2", "type": "quantitative", "scale": {"type": "log", "domain": [0.0265, 4700], "nice": false}, "axis": {"orient": "bottom", "values": [0.03, 0.04, 0.05, 0.06, 0.07, 0.08, 0.09, 0.2, 0.3, 0.4, 0.5, 0.6, 0.7, 0.8, 0.9, 2, 3, 4, 5, 6, 7, 8, 9, 20, 30, 40, 50, 60, 70, 80, 90, 200, 300, 400, 500, 600, 700, 800, 900, 2000, 3000, 4000], "tickSize": -4, "labels": false, "title": null}},
           "y": {"field": "blo", "type": "quantitative", "scale": {"domain": [0, 2.1], "nice": false, "zero": false}, "axis": {"orient": "left", "values": [0.1, 0.2, 0.3, 0.4, 0.6, 0.7, 0.8, 0.9, 1.1, 1.2, 1.3, 1.4, 1.6, 1.7, 1.8, 1.9], "tickSize": -4, "labels": false, "title": null}},
           "y2": {"field": "bhi"}
         }},
        {"mark": {"type": "area", "fill": {"expr": "redF"}, "stroke": "red", "strokeWidth": 1.2},
         "encoding": {
           "x": {"field": "q2", "type": "quantitative", "scale": {"type": "log", "domain": [0.0265, 4700], "nice": false}, "axis": {"orient": "top", "values": [0.1, 1, 10, 100, 1000], "tickSize": -8, "labels": false, "title": null}},
           "y": {"field": "rlo", "type": "quantitative", "scale": {"domain": [0, 2.1], "nice": false, "zero": false}, "axis": {"orient": "right", "values": [0, 0.5, 1, 1.5, 2], "tickSize": -8, "labels": false, "title": null}},
           "y2": {"field": "rhi"}
         }},
        {"mark": {"type": "area", "fill": {"expr": "redB"}},
         "encoding": {
           "x": {"field": "q2", "type": "quantitative", "scale": {"type": "log", "domain": [0.0265, 4700], "nice": false}, "axis": null},
           "y": {"field": "rlo", "type": "quantitative", "scale": {"domain": [0, 2.1], "nice": false, "zero": false}, "axis": null},
           "y2": {"field": "rhi"}
         }},
        {"transform": [{"filter": "false"}],
         "mark": {"type": "area"},
         "encoding": {
           "x": {"field": "q2", "type": "quantitative", "scale": {"type": "log", "domain": [0.0265, 4700], "nice": false}, "axis": null},
           "y": {"field": "rlo", "type": "quantitative", "scale": {"domain": [0, 2.1], "nice": false, "zero": false}, "axis": null},
           "y2": {"field": "rhi"},
           "fill": {"datum": "DISASTER (μ²ᵣ = Q²) CTEQ5M1", "scale": {"range": ["rgba(255,0,0,0.13)"]}, "legend": {"title": null, "legendX": 311, "legendY": 35, "symbolType": "M-1,-0.467H1V0.467H-1Z", "symbolSize": 3600, "labelOffset": 35, "labelColor": "red", "encode": {"symbols": {"update": {"fillOpacity": {"value": 1}, "opacity": {"value": 1}, "stroke": {"value": "black"}, "strokeWidth": {"value": 1.5}}}}}}
         }},
        {"mark": {"type": "rule", "color": "black", "strokeWidth": 2.5},
         "encoding": {
           "x": {"field": "q2", "type": "quantitative", "scale": {"type": "log", "domain": [0.0265, 4700], "nice": false}, "axis": {"orient": "top", "values": [0.03, 0.04, 0.05, 0.06, 0.07, 0.08, 0.09, 0.2, 0.3, 0.4, 0.5, 0.6, 0.7, 0.8, 0.9, 2, 3, 4, 5, 6, 7, 8, 9, 20, 30, 40, 50, 60, 70, 80, 90, 200, 300, 400, 500, 600, 700, 800, 900, 2000, 3000, 4000], "tickSize": -4, "labels": false, "title": null}},
           "y": {"field": "tlo", "type": "quantitative", "scale": {"domain": [0, 2.1], "nice": false, "zero": false}, "axis": {"orient": "right", "values": [0.1, 0.2, 0.3, 0.4, 0.6, 0.7, 0.8, 0.9, 1.1, 1.2, 1.3, 1.4, 1.6, 1.7, 1.8, 1.9], "tickSize": -4, "labels": false, "title": null}},
           "y2": {"field": "thi"}
         }},
        {"transform": [{"fold": ["slo", "shi"], "as": ["k", "v"]}],
         "mark": {"type": "tick", "orient": "horizontal", "size": 14, "thickness": 1.5, "color": "black", "opacity": 1},
         "encoding": {
           "x": {"field": "q2", "type": "quantitative", "scale": {"type": "log", "domain": [0.0265, 4700], "nice": false}, "axis": null},
           "y": {"field": "v", "type": "quantitative", "scale": {"domain": [0, 2.1], "nice": false, "zero": false}, "axis": null}
         }},
        {"mark": {"type": "point", "filled": true, "shape": "circle", "size": 230, "color": "black", "opacity": 1},
         "encoding": {
           "x": {"field": "q2", "type": "quantitative", "scale": {"type": "log", "domain": [0.0265, 4700], "nice": false}, "axis": null},
           "y": {"field": "y", "type": "quantitative", "scale": {"domain": [0, 2.1], "nice": false, "zero": false}, "axis": null}
         }},
        {"transform": [{"filter": "datum.q2 < 1"}],
         "mark": {"type": "text", "fontSize": 30},
         "encoding": {
           "x": {"datum": 0.0425, "type": "quantitative", "scale": {"type": "log", "domain": [0.0265, 4700], "nice": false}, "axis": null},
           "y": {"datum": 1.809, "type": "quantitative", "scale": {"domain": [0, 2.1], "nice": false, "zero": false}, "axis": null},
           "text": {"value": "c)\u00a0\u00a0150\u00a0<\u00a0\u00a0Ē"}
         }},
        {"transform": [{"filter": "datum.q2 < 1"}],
         "mark": {"type": "text", "fontSize": 20, "dx": 157, "dy": -17},
         "encoding": {
           "x": {"datum": 0.0425, "type": "quantitative", "scale": {"type": "log", "domain": [0.0265, 4700], "nice": false}, "axis": null},
           "y": {"datum": 1.809, "type": "quantitative", "scale": {"domain": [0, 2.1], "nice": false, "zero": false}, "axis": null},
           "text": {"value": "2"}
         }},
        {"transform": [{"filter": "datum.q2 < 1"}],
         "mark": {"type": "text", "fontSize": 20, "dx": 157, "dy": 20},
         "encoding": {
           "x": {"datum": 0.0425, "type": "quantitative", "scale": {"type": "log", "domain": [0.0265, 4700], "nice": false}, "axis": null},
           "y": {"datum": 1.809, "type": "quantitative", "scale": {"domain": [0, 2.1], "nice": false, "zero": false}, "axis": null},
           "text": {"value": "T"}
         }},
        {"transform": [{"filter": "datum.q2 < 1"}],
         "mark": {"type": "text", "fontSize": 30, "dx": 186},
         "encoding": {
           "x": {"datum": 0.0425, "type": "quantitative", "scale": {"type": "log", "domain": [0.0265, 4700], "nice": false}, "axis": null},
           "y": {"datum": 1.809, "type": "quantitative", "scale": {"domain": [0, 2.1], "nice": false, "zero": false}, "axis": null},
           "text": {"value": "<\u00a0700\u00a0GeV²"}
         }}
      ],
      "resolve": {"axis": {"x": "independent", "y": "independent"}}
    }
  ]
}
